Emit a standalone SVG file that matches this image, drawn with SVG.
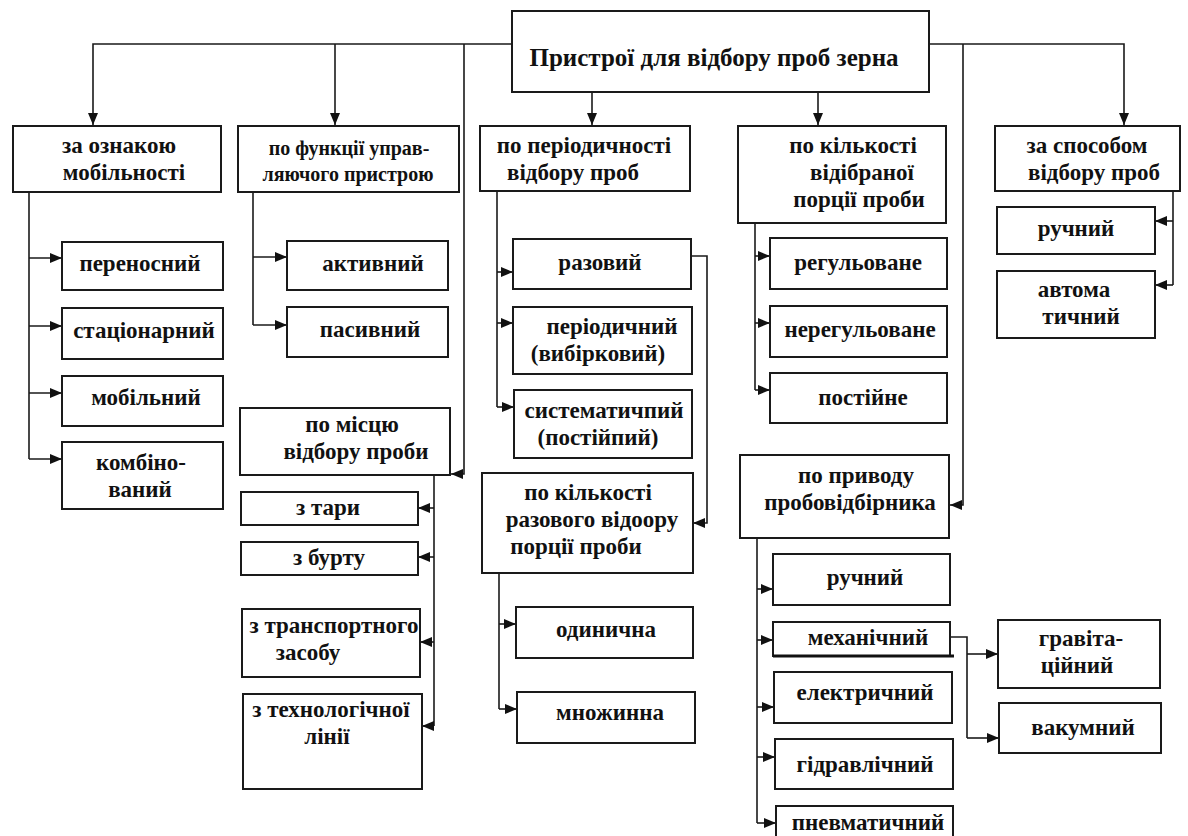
<svg xmlns="http://www.w3.org/2000/svg" width="1188" height="836" viewBox="0 0 1188 836" font-family="Liberation Serif, Times New Roman, DejaVu Serif, serif">
<style>
.box{fill:#fff;stroke:#1a1a1a;stroke-width:2}
.t{font-weight:bold;font-size:23px;fill:#111;text-anchor:middle}
.s{font-size:20px}
.r{font-size:25px}
.c{fill:none;stroke:#1a1a1a;stroke-width:1.6}
.a{marker-end:url(#ah)}
</style>
<defs>
<marker id="ah" viewBox="0 0 12 10" refX="12" refY="5" markerWidth="12" markerHeight="10" orient="auto" markerUnits="userSpaceOnUse"><path d="M0,0 L12,5 L0,10 z" fill="#111"/></marker>
</defs>
<rect width="1188" height="836" fill="#fff"/>
<g id="connectors">
<path class="c a" d="M512,44 H93 V125"/>
<path class="c a" d="M335,44 V125"/>
<path class="c a" d="M464,44 V474 H451"/>
<path class="c a" d="M592,92 V125"/>
<path class="c a" d="M818,92 V125"/>
<path class="c a" d="M929,44 H1124 V125"/>
<path class="c a" d="M963,44 V505 H950"/>
<path class="c" d="M29,192 V459"/>
<path class="c a" d="M29,258 H62"/>
<path class="c a" d="M29,326 H62"/>
<path class="c a" d="M29,393 H62"/>
<path class="c a" d="M29,459 H62"/>
<path class="c" d="M253,192 V325"/>
<path class="c a" d="M253,257 H287"/>
<path class="c a" d="M253,325 H287"/>
<path class="c" d="M497,191 V407"/>
<path class="c a" d="M497,272 H513"/>
<path class="c a" d="M497,323 H513"/>
<path class="c a" d="M497,407 H514"/>
<path class="c a" d="M691,256 H707 V523 H693"/>
<path class="c" d="M434,475 V726"/>
<path class="c a" d="M434,508 H418"/>
<path class="c a" d="M434,557 H418"/>
<path class="c a" d="M434,642 H420"/>
<path class="c a" d="M434,726 H422"/>
<path class="c" d="M499,573 V709"/>
<path class="c a" d="M499,624 H516"/>
<path class="c a" d="M499,709 H517"/>
<path class="c" d="M755,223 V390"/>
<path class="c a" d="M755,256 H770"/>
<path class="c a" d="M755,323 H770"/>
<path class="c a" d="M755,390 H770"/>
<path class="c" d="M757,538 V823"/>
<path class="c a" d="M757,589 H773"/>
<path class="c a" d="M757,640 H773"/>
<path class="c a" d="M757,707 H774"/>
<path class="c a" d="M757,757 H775"/>
<path class="c a" d="M757,823 H776"/>
<path class="c" d="M950,637 H967 V738"/>
<path class="c a" d="M967,654 H998"/>
<path class="c a" d="M967,738 H999"/>
<path class="c" d="M1173,191 V285"/>
<path class="c a" d="M1173,221 H1155"/>
<path class="c a" d="M1173,285 H1155"/>
</g>
<g id="root"><rect class="box" x="512" y="11" width="417" height="81"/><text class="t r" x="714" y="66">Пристрої для відбору проб зерна</text></g>
<g id="n-mobility"><rect class="box" x="13" y="126" width="208" height="66"/><text class="t" x="119" y="153">за ознакою</text><text class="t" x="124" y="180">мобільності</text></g>
<g id="n-function"><rect class="box" x="238" y="126" width="221" height="66"/><text class="t s" x="349" y="155">по функції управ-</text><text class="t s" x="348" y="181">ляючого пристрою</text></g>
<g id="n-period"><rect class="box" x="480" y="126" width="210" height="65"/><text class="t" x="584" y="153">по періодичності</text><text class="t" x="573" y="180">відбору проб</text></g>
<g id="n-amount"><rect class="box" x="738" y="126" width="208" height="97"/><text class="t" x="853" y="153">по кількості</text><text class="t" x="862" y="180">відібраної</text><text class="t" x="859" y="207">порції проби</text></g>
<g id="n-method"><rect class="box" x="995" y="126" width="185" height="65"/><text class="t" x="1087" y="153">за способом</text><text class="t" x="1094" y="180">відбору проб</text></g>
<g id="n-portable"><rect class="box" x="62" y="242" width="161" height="48"/><text class="t" x="140" y="271">переносний</text></g>
<g id="n-stationary"><rect class="box" x="62" y="308" width="161" height="51"/><text class="t" x="144" y="338">стаціонарний</text></g>
<g id="n-mobile"><rect class="box" x="62" y="376" width="161" height="50"/><text class="t" x="146" y="405">мобільний</text></g>
<g id="n-combined"><rect class="box" x="62" y="442" width="161" height="67"/><text class="t" x="141" y="470">комбіно-</text><text class="t" x="140" y="497">ваний</text></g>
<g id="n-active"><rect class="box" x="287" y="241" width="161" height="49"/><text class="t" x="373" y="271">активний</text></g>
<g id="n-passive"><rect class="box" x="287" y="307" width="161" height="50"/><text class="t" x="370" y="337">пасивний</text></g>
<g id="n-place"><rect class="box" x="240" y="408" width="210" height="67"/><text class="t" x="352" y="432">по місцю</text><text class="t" x="356" y="459">відбору проби</text></g>
<g id="n-tara"><rect class="box" x="241" y="492" width="177" height="33"/><text class="t" x="328" y="515">з тари</text></g>
<g id="n-burt"><rect class="box" x="241" y="542" width="177" height="33"/><text class="t" x="329" y="565">з бурту</text></g>
<g id="n-transport"><rect class="box" x="242" y="609" width="178" height="68"/><text class="t" x="334" y="633">з транспортного</text><text class="t" x="308" y="660">засобу</text></g>
<g id="n-line"><rect class="box" x="243" y="694" width="179" height="95"/><text class="t" x="331" y="717">з технологічної</text><text class="t" x="327" y="744">лінії</text></g>
<g id="n-single"><rect class="box" x="513" y="239" width="178" height="50"/><text class="t" x="600" y="270">разовий</text></g>
<g id="n-periodic"><rect class="box" x="513" y="307" width="179" height="67"/><text class="t" x="612" y="334">періодичний</text><text class="t" x="598" y="361">(вибірковий)</text></g>
<g id="n-systematic"><rect class="box" x="514" y="390" width="178" height="68"/><text class="t" x="604" y="418">систематичпий</text><text class="t" x="598" y="445">(постійпий)</text></g>
<g id="n-oneportion"><rect class="box" x="482" y="473" width="211" height="100"/><text class="t" x="588" y="500">по кількості</text><text class="t" x="592" y="527">разового відоору</text><text class="t" x="576" y="554">порції проби</text></g>
<g id="n-unit"><rect class="box" x="516" y="607" width="177" height="51"/><text class="t" x="606" y="637">одинична</text></g>
<g id="n-multi"><rect class="box" x="517" y="692" width="178" height="51"/><text class="t" x="610" y="720">множинна</text></g>
<g id="n-regulated"><rect class="box" x="770" y="238" width="177" height="51"/><text class="t" x="858" y="270">регульоване</text></g>
<g id="n-unregulated"><rect class="box" x="770" y="306" width="177" height="51"/><text class="t" x="860" y="337">нерегульоване</text></g>
<g id="n-constant"><rect class="box" x="770" y="373" width="177" height="50"/><text class="t" x="863" y="405">постійне</text></g>
<g id="n-drive"><rect class="box" x="740" y="455" width="209" height="83"/><text class="t" x="856" y="483">по приводу</text><text class="t" x="850" y="510">пробовідбірника</text></g>
<g id="n-manual2"><rect class="box" x="773" y="554" width="177" height="51"/><text class="t" x="865" y="585">ручний</text></g>
<g id="n-mechanical"><rect class="box" x="773" y="622" width="177" height="34"/><line x1="773" y1="656" x2="954" y2="656" stroke="#111" stroke-width="3"/><text class="t" x="868" y="645">механічний</text></g>
<g id="n-electric"><rect class="box" x="774" y="672" width="178" height="51"/><text class="t" x="865" y="700">електричний</text></g>
<g id="n-hydraulic"><rect class="box" x="775" y="739" width="178" height="50"/><text class="t" x="865" y="772">гідравлічний</text></g>
<g id="n-pneumatic"><rect class="box" x="776" y="806" width="177" height="40"/><text class="t" x="868" y="830">пневматичний</text></g>
<g id="n-gravity"><rect class="box" x="998" y="620" width="162" height="68"/><text class="t" x="1081" y="646">гравіта-</text><text class="t" x="1077" y="673">ційний</text></g>
<g id="n-vacuum"><rect class="box" x="999" y="703" width="162" height="50"/><text class="t" x="1083" y="735">вакумний</text></g>
<g id="n-manual"><rect class="box" x="997" y="207" width="158" height="47"/><text class="t" x="1076" y="236">ручний</text></g>
<g id="n-auto"><rect class="box" x="997" y="271" width="158" height="67"/><text class="t" x="1074" y="297">автома</text><text class="t" x="1081" y="324">тичний</text></g>
</svg>
